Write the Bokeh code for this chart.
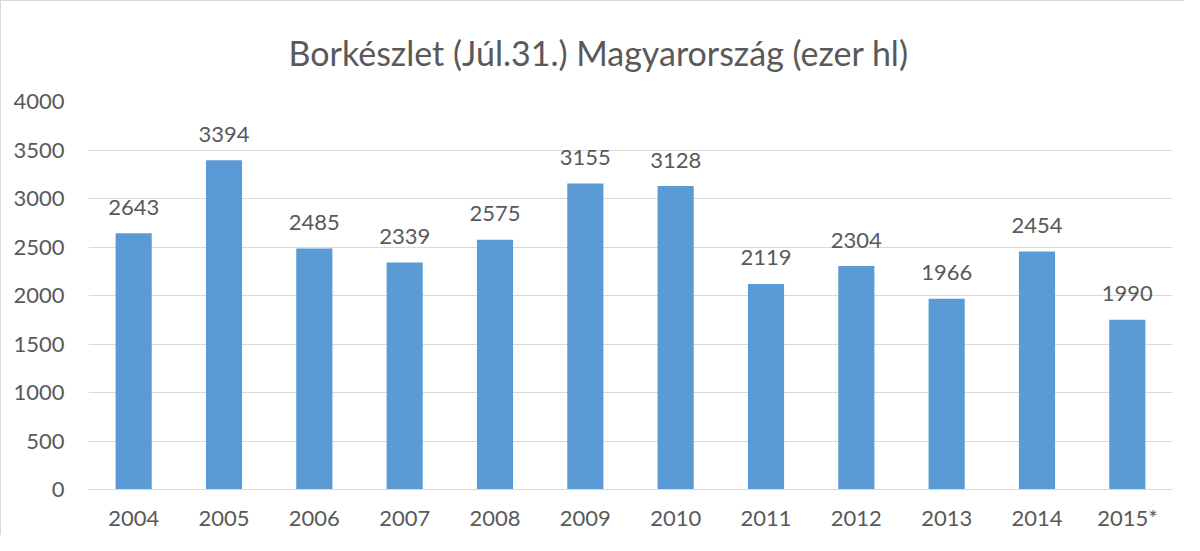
from bokeh.plotting import figure
from bokeh.models import ColumnDataSource, Title, FixedTicker
from bokeh.core.properties import value
from bokeh.embed import file_html
from bokeh.resources import INLINE

years = ["2004", "2005", "2006", "2007", "2008", "2009", "2010", "2011", "2012", "2013", "2014", "2015*"]
stock = [2643, 3394, 2485, 2339, 2575, 3155, 3128, 2119, 2304, 1966, 2454, 1750]
labels = ["2643", "3394", "2485", "2339", "2575", "3155", "3128", "2119", "2304", "1966", "2454", "1990"]
y_ticks = [0, 500, 1000, 1500, 2000, 2500, 3000, 3500, 4000]
title = "Borkészlet (Júl.31.) Magyarország (ezer hl)"

FONT = "Lato"
TXT = "#595959"
GRID = "#d9d9d9"
BAR = "#5b9bd5"

src = ColumnDataSource(dict(x=years, top=stock, lab=labels))

p = figure(x_range=years, y_range=(0, 4000), width=1184, height=535,
           output_backend="svg", toolbar_location=None,
           min_border_left=87, min_border_right=13, min_border_top=99, min_border_bottom=47)

p.add_layout(Title(text=title, align="left", offset=200,
                   text_font=FONT, text_font_size="34px", text_font_style="normal",
                   text_color=TXT, standoff=57), "above")

p.vbar(x="x", top="top", width=0.4, source=src, color=BAR, line_color=None)
p.text(x="x", y="top", text="lab", source=src, text_align="center", text_baseline="alphabetic",
       y_offset=-26, text_font=value(FONT), text_font_size="22px", text_color=TXT)

p.outline_line_color = None
p.xgrid.grid_line_color = None
p.ygrid.grid_line_color = GRID
p.ygrid.grid_line_width = 1
p.yaxis.ticker = FixedTicker(ticks=y_ticks)
p.yaxis.axis_line_color = None
p.yaxis.major_tick_line_color = None
p.yaxis.minor_tick_line_color = None
p.xaxis.axis_line_color = GRID
p.xaxis.major_tick_line_color = None
p.xaxis.minor_tick_line_color = None
for ax in (p.xaxis, p.yaxis):
    ax.major_label_text_font = FONT
    ax.major_label_text_font_size = "22px"
    ax.major_label_text_color = TXT
p.yaxis.major_label_standoff = 18
p.xaxis.major_label_standoff = 8
p.styles = {"border-left": "1px solid #d9d9d9", "border-top": "1px solid #d9d9d9"}

open("out.html", "w").write(file_html(p, INLINE))
